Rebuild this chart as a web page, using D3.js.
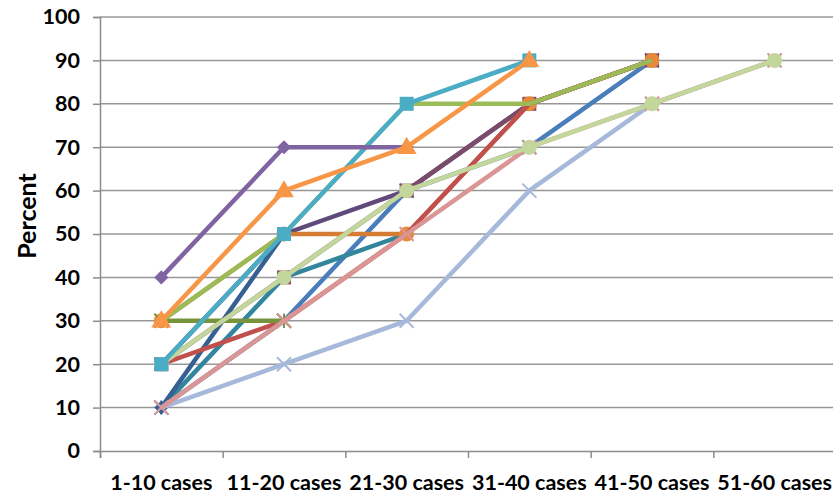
<!DOCTYPE html>
<html><head><meta charset="utf-8">
<script src="https://cdn.jsdelivr.net/npm/d3@7"></script>
<style>
html,body{margin:0;padding:0;background:#fff;}
svg{display:block;}
text{font-family:Lato,"Open Sans",sans-serif;font-weight:bold;fill:#000;}
</style></head>
<body>
<svg id="chart" width="833" height="495"></svg>
<script>
// ---- data ----
const categories = ["1-10 cases","11-20 cases","21-30 cases","31-40 cases","41-50 cases","51-60 cases"];
const yTicks = [0,10,20,30,40,50,60,70,80,90,100];
const seriesRed        = [20,30,50,80,90,null];
const seriesBlue       = [10,30,60,70,90,null];
const seriesTeal       = [10,40,50,null,null,null];
const seriesDarkBlue   = [10,50,null,null,null,null];
const seriesDarkPurple = [20,50,60,80,90,null];
const seriesPlum       = [20,40,60,80,90,null];
const seriesDarkOrange = [30,50,50,80,90,null];
const seriesOlive      = [30,30,null,null,null,null];
const seriesLightBlue  = [10,20,30,60,80,90];
const seriesPink       = [10,30,50,70,80,90];
const seriesLightGreen = [20,40,60,70,80,90];
const seriesGreen      = [30,50,80,80,90,null];
const seriesAqua       = [20,50,80,90,null,null];
const seriesPurple     = [40,70,70,null,null,null];
const seriesOrange     = [30,60,70,90,null,null];

// drawing order (bottom to top) and styles
const series = [
  {values: seriesBlue,       color:"#4A7EBB", marker:"star"},
  {values: seriesTeal,       color:"#31859C", marker:"none"},
  {values: seriesDarkBlue,   color:"#376092", marker:"diamond"},
  {values: seriesDarkPurple, color:"#604A7B", marker:"none"},
  {values: seriesPlum,       color:"#7A4B6A", marker:"square", mfill:"#8A4A5E"},
  {values: seriesDarkOrange, color:"#D47B34", marker:"circle", mfill:"#E68A3C"},
  {values: seriesRed,        color:"#C0504D", marker:"none"},
  {values: seriesOlive,      color:"#77933C", marker:"star"},
  {values: seriesLightBlue,  color:"#A7B9DA", marker:"x"},
  {values: seriesPink,       color:"#D99694", marker:"x"},
  {values: seriesLightGreen, color:"#C3D69B", marker:"circle", mfill:"#C3D69B"},
  {values: seriesGreen,      color:"#9BBB59", marker:"none"},
  {values: seriesAqua,       color:"#4BACC6", marker:"square", mfill:"#4BACC6"},
  {values: seriesPurple,     color:"#8064A2", marker:"diamond", mfill:"#8064A2"},
  {values: seriesOrange,     color:"#F79646", marker:"triangle", mfill:"#F79646"}
];

// ---- layout ----
const svg = d3.select("#chart");
const mLeft = 100, mRight = 836, mTop = 17, mBottom = 451;
const x = d3.scaleBand().domain(categories).range([mLeft, mRight]).padding(0);
const xc = c => x(c) + x.bandwidth()/2;
const y = d3.scaleLinear().domain([0,100]).range([mBottom, mTop]);
const xIdx = d3.scaleLinear().domain([0, categories.length]).range([mLeft, mRight]);

// gridlines
svg.append("g").selectAll("line").data(yTicks.filter(d=>d>0)).join("line")
  .attr("x1", mLeft).attr("x2", 833)
  .attr("y1", d=>y(d)).attr("y2", d=>y(d))
  .attr("stroke", "#979797").attr("stroke-width", 1.5);

// y axis
const yAxis = svg.append("g").attr("transform", `translate(${mLeft},0)`)
  .call(d3.axisLeft(y).tickValues(yTicks).tickSize(7).tickPadding(13).tickFormat(d3.format("d")));
yAxis.select(".domain").attr("stroke", "#8C8C8C").attr("stroke-width", 1.5);
yAxis.selectAll(".tick line").attr("stroke", "#8C8C8C").attr("stroke-width", 1.5);
yAxis.selectAll(".tick text").attr("font-size", 21.5).attr("font-family","Lato").attr("font-weight","900").attr("fill","#000");

// x axis: boundary ticks
const xTickAxis = svg.append("g").attr("transform", `translate(0,${mBottom})`)
  .call(d3.axisBottom(xIdx).tickValues(d3.range(categories.length+1)).tickSize(7).tickFormat(""));
xTickAxis.select(".domain").attr("stroke", "#8C8C8C").attr("stroke-width", 1.5);
xTickAxis.selectAll(".tick line").attr("stroke", "#8C8C8C").attr("stroke-width", 1.5);
// x labels
const xLab = svg.append("g").attr("transform", `translate(0,${mBottom})`)
  .call(d3.axisBottom(x).tickSize(0).tickPadding(24));
xLab.select(".domain").remove();
xLab.selectAll(".tick text").attr("font-size", 21.5).attr("font-family","Lato").attr("font-weight","900").attr("fill","#000");

// y title
svg.append("text").attr("transform", "translate(36,216) rotate(-90)")
  .attr("text-anchor","middle").attr("font-size", 25).attr("font-weight","900").text("Percent");

// lines & markers
const line = d3.line().defined(d=>d!=null)
  .x((d,i)=>xc(categories[i])).y(d=>y(d));

function drawMarker(g, s, cx, cy){
  const m = s.marker, f = s.mfill || s.color;
  if (m==="diamond"){
    g.append("path").attr("d", d3.symbol(d3.symbolSquare, 100)())
      .attr("transform", `translate(${cx},${cy}) rotate(45)`).attr("fill", f);
  } else if (m==="square"){
    g.append("rect").attr("x",cx-7).attr("y",cy-7).attr("width",14).attr("height",14).attr("fill", f);
  } else if (m==="triangle"){
    g.append("path").attr("d", d3.symbol(d3.symbolTriangle, 170)())
      .attr("transform", `translate(${cx},${cy+1})`).attr("fill", f);
  } else if (m==="circle"){
    g.append("circle").attr("cx",cx).attr("cy",cy).attr("r",7.5).attr("fill", f);
  } else if (m==="x" || m==="star"){
    const r = 7;
    g.append("path").attr("d", `M${cx-r},${cy-r}L${cx+r},${cy+r}M${cx-r},${cy+r}L${cx+r},${cy-r}` + (m==="star" ? `M${cx},${cy-r}L${cx},${cy+r}` : ""))
      .attr("stroke", s.color).attr("stroke-width", 2).attr("fill","none");
  }
}

series.forEach(s => {
  const g = svg.append("g");
  g.append("path").datum(s.values).attr("d", line)
    .attr("fill","none").attr("stroke", s.color).attr("stroke-width", 4.5)
    .attr("stroke-linejoin","round");
  s.values.forEach((v,i) => { if (v!=null) drawMarker(g, s, xc(categories[i]), y(v)); });
});
</script>
</body></html>
